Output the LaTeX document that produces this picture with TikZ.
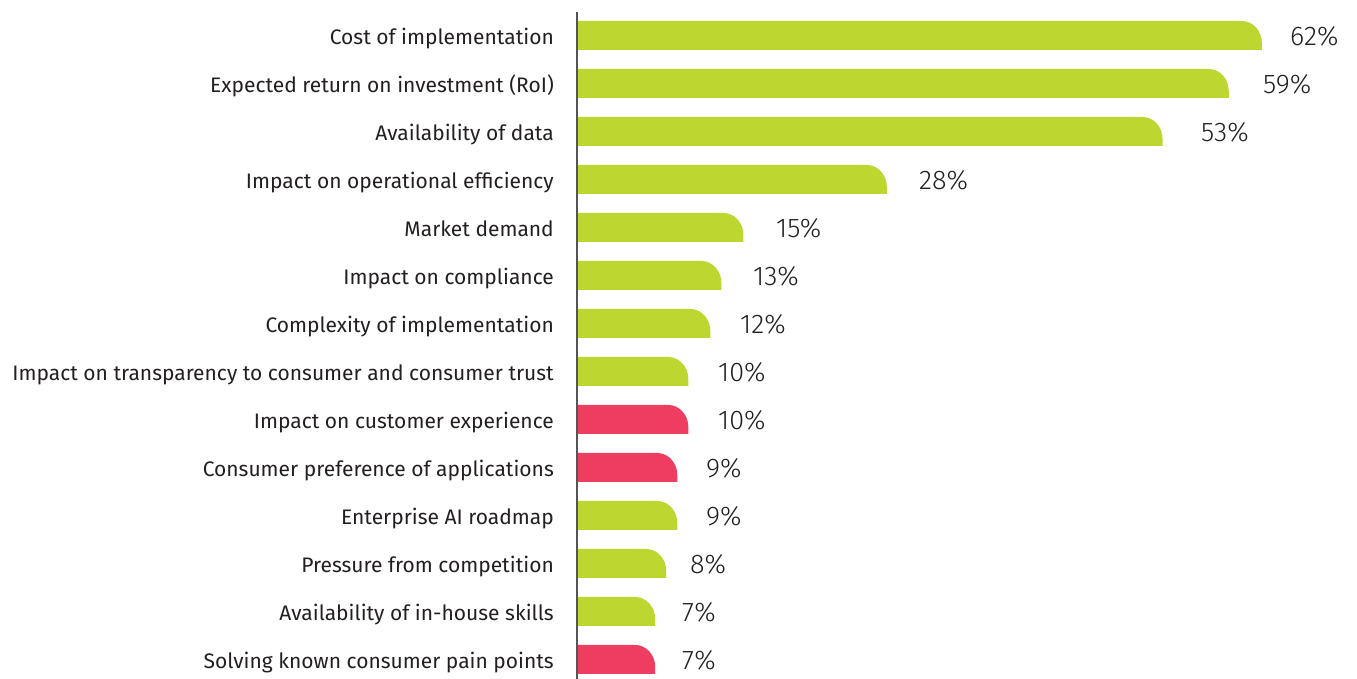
\documentclass[tikz,border=0pt]{standalone}
\usepackage{fontspec}
\setmainfont{Fira Sans}
\newfontfamily\pctfont{Fira Sans Light}
\definecolor{barG}{HTML}{BDD630}
\definecolor{barR}{HTML}{EE3D60}
\definecolor{txt}{HTML}{231F20}
\definecolor{axisc}{HTML}{555555}
\begin{document}
\begin{tikzpicture}[x=1pt,y=1pt,
  lab/.style={anchor=base east,inner sep=0pt,text=txt,font=\fontsize{21}{23}\selectfont},
  pct/.style={anchor=base west,inner sep=0pt,text=txt,font=\pctfont\fontsize{27}{29}\selectfont}]
\useasboundingbox (0,0) rectangle (1357,679);
\foreach \i/\lbl/\v/\c/\px in {
 0/Cost of implementation/62/barG/1290,
 1/Expected return on investment (RoI)/59/barG/1263,
 2/Availability of data/53/barG/1201,
 3/Impact on operational efficiency/28/barG/919,
 4/Market demand/15/barG/776,
 5/Impact on compliance/13/barG/753,
 6/Complexity of implementation/12/barG/740,
 7/Impact on transparency to consumer and consumer trust/10/barG/718,
 8/Impact on customer experience/10/barR/718,
 9/Consumer preference of applications/9/barR/706,
 10/Enterprise AI roadmap/9/barG/706,
 11/Pressure from competition/8/barG/690,
 12/Availability of in-house skills/7/barG/682,
 13/Solving known consumer pain points/7/barR/682}{
  \pgfmathsetmacro\T{679-21-48*\i}
  \pgfmathsetmacro\B{\T-29}
  \pgfmathsetmacro\E{578+11.03*\v}
  \pgfmathsetmacro\M{\T-14.5-9.5}
  \fill[\c] (578,\B) -- (578,\T) -- (\E-20,\T) arc[start angle=90,end angle=0,x radius=20,y radius=22] -- (\E,\B) -- cycle;
  \node[lab] (l\i) at (554,\M) {\lbl};
  \node[pct] (p\i) at (\px,\M-0.5) {\v\%};
}
\draw[axisc,line width=1.6pt] (577,0) -- (577,667);
\end{tikzpicture}
\end{document}
